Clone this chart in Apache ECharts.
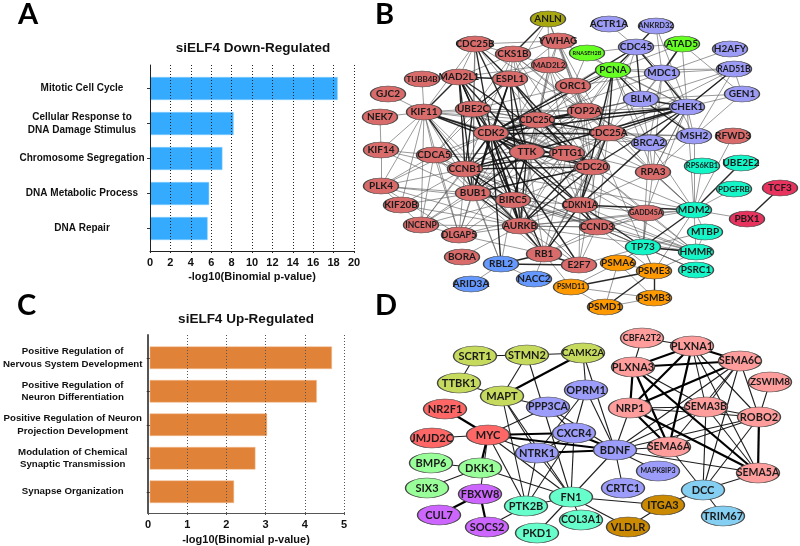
<!DOCTYPE html>
<html>
<head>
<meta charset="utf-8">
<style>html,body{margin:0;padding:0;background:#fff}#chart{width:800px;height:546px}</style>
<script src="https://cdn.jsdelivr.net/npm/echarts@6/dist/echarts.min.js"></script>
</head>
<body>
<div id="chart"></div>
<script>
// bar panels
var downTerms = ['Mitotic Cell Cycle', 'Cellular Response to\nDNA Damage Stimulus', 'Chromosome Segregation', 'DNA Metabolic Process', 'DNA Repair'];
var downValues = [18.4, 8.2, 7.1, 5.8, 5.65];
var upTerms = ['Positive Regulation of\nNervous System Development', 'Positive Regulation of\nNeuron Differentiation', 'Positive Regulation of Neuron\nProjection Development', 'Modulation of Chemical\nSynaptic Transmission', 'Synapse Organization'];
var upValues = [4.69, 4.3, 3.02, 2.72, 2.17];

// network B: node name, position, module
var bNames = ['ANLN', 'CDC25B', 'YWHAG', 'CKS1B', 'MAD2L2', 'TUBB4B', 'MAD2L1', 'ESPL1', 'ORC1', 'GJC2', 'NEK7', 'KIF11', 'UBE2C', 'TOP2A', 'CDC25C', 'CDK2', 'KIF14', 'CDCA5', 'TTK', 'PTTG1', 'ACTR1A', 'ANKRD32', 'CDC45', 'ATAD5', 'H2AFY', 'RNASEH2B', 'PCNA', 'MDC1', 'RAD51B', 'GEN1', 'BLM', 'CHEK1', 'MSH2', 'RFWD3', 'CDC25A', 'BRCA2', 'CCNB1', 'BUB1', 'BIRC5', 'PLK4', 'KIF20B', 'INCENP', 'DLGAP5', 'AURKB', 'CDKN1A', 'BORA', 'RBL2', 'RB1', 'E2F7', 'ARID3A', 'NACC2', 'PSMD11', 'CDC20', 'RPA3', 'RPS6KB1', 'UBE2E2', 'PDGFRB', 'TCF3', 'MDM2', 'GADD45A', 'PBX1', 'CCND3', 'MTBP', 'TP73', 'HMMR', 'PSMA6', 'PSME3', 'PSRC1', 'PSMB3', 'PSMD1'];
var bX = [548, 475, 558, 513, 549, 422, 459, 510, 573, 388, 380, 424, 473, 585, 537, 491, 381, 434, 527, 567, 609, 656, 636, 682, 730, 587, 613, 662, 734, 742, 641, 687, 694, 733, 608, 649, 465, 473, 513, 381, 401, 421, 459, 520, 580, 462, 501, 544, 579, 471, 534, 571, 592, 653, 702, 741, 734, 780, 694, 646, 747, 597, 705, 643, 696, 618, 654, 696, 654, 605];
var bY = [19, 44, 41, 54, 65, 79, 77, 79, 86, 94, 117, 112, 109, 111, 120, 133, 150, 155, 152, 153, 24, 26, 47, 44, 49, 53, 70, 73, 69, 94, 99, 107, 136, 136, 133, 143, 169, 193, 200, 186, 205, 225, 235, 226, 205, 257, 264, 254, 265, 284, 279, 287, 167, 172, 166, 163, 189, 188, 210, 213, 219, 227, 232, 247, 252, 263, 271, 270, 298, 307];
var bModule = [1, 0, 0, 0, 0, 0, 0, 0, 0, 0, 0, 0, 0, 0, 0, 0, 0, 0, 0, 0, 2, 2, 2, 3, 2, 3, 3, 2, 2, 2, 2, 2, 2, 0, 0, 2, 0, 0, 0, 0, 0, 0, 0, 0, 0, 0, 4, 0, 0, 4, 4, 5, 0, 0, 6, 6, 6, 7, 6, 0, 7, 0, 6, 6, 6, 5, 5, 6, 5, 5];
var bColors = ['#D96B6B', '#A8A80E', '#9C9CF7', '#66FF22', '#6699FF', '#FF9900', '#14F5C8', '#E8335F'];

// each line: first gene linked to the rest
var bStrong = [
    'CDK2 TTK CCNB1 BUB1 CDC25C CDC25A CDC20 CDKN1A CCND3 UBE2C AURKB BIRC5 ESPL1 TOP2A PTTG1 KIF11 RB1 RBL2 MAD2L1 CHEK1 CDC25B E2F7 ORC1 PCNA',
    'TTK BUB1 CCNB1 CDC20 AURKB PTTG1 MAD2L1 ESPL1 KIF11 CDC25B CHEK1 BIRC5 CDKN1A',
    'CCNB1 BUB1 AURKB BIRC5 CDC20 UBE2C PTTG1 CDC25C KIF11',
    'BUB1 AURKB BIRC5 CDC20 MAD2L1 ESPL1',
    'AURKB BIRC5 CDC20 RB1 CDC25A UBE2C',
    'MAD2L1 UBE2C KIF11 ESPL1 CCNB1 CDC20 BIRC5',
    'ESPL1 CDC25B PTTG1 UBE2C CDC20 AURKB',
    'CDC25C CDC25A CHEK1 CDC20 TOP2A',
    'CDC25A CHEK1 CDKN1A PCNA',
    'CDKN1A PCNA CHEK1 MDM2 CCND3 RB1 TP73',
    'CDC45 PCNA BLM CHEK1 ORC1 ANKRD32',
    'BLM CHEK1 MSH2 PCNA',
    'CHEK1 RAD51B CDC20',
    'ANLN CKS1B',
    'TCF3 PBX1',
    'UBE2E2 MDM2',
    'MDM2 TP73',
    'RBL2 RB1 E2F7',
    'RB1 E2F7',
    'ATAD5 MDC1',
    'PSME3 PSMB3 PSMD1 PSMD11',
    'TP73 HMMR'
];
var bWeak = [
    'ANLN ESPL1 MAD2L2 TOP2A ORC1',
    'CDC25B CKS1B YWHAG ESPL1 UBE2C KIF11 TOP2A MAD2L1 CDC25C BUB1',
    'YWHAG CKS1B MAD2L2 ESPL1 ORC1 TOP2A CDC25C CHEK1 CDC25A',
    'CKS1B MAD2L2 ESPL1 MAD2L1 UBE2C CDC25C TOP2A CCNB1 CDC20 TTK CDC25A',
    'MAD2L2 ESPL1 ORC1 TOP2A CDC25C CDC20 MAD2L1 PTTG1 BUB1 AURKB',
    'TUBB4B KIF11',
    'GJC2 KIF11',
    'NEK7 KIF11 KIF14',
    'KIF14 KIF11 CDCA5 CCNB1 PLK4 BUB1',
    'KIF11 UBE2C CDC25C CDCA5 BUB1 PLK4 INCENP DLGAP5 BIRC5 AURKB KIF20B TOP2A PTTG1 CDC20 CDC25A',
    'CDCA5 CCNB1 BUB1 PLK4 INCENP DLGAP5 AURKB BIRC5 UBE2C CDK2 TTK ESPL1 CDC20',
    'PLK4 CCNB1 BUB1 AURKB INCENP BIRC5 DLGAP5 CDK2',
    'KIF20B CCNB1 BUB1 AURKB',
    'INCENP CCNB1 BUB1 AURKB BIRC5 DLGAP5 TTK CDK2',
    'DLGAP5 CCNB1 BUB1 AURKB BIRC5 CDKN1A RB1 TTK CDK2',
    'BORA AURKB',
    'RBL2 BUB1 BIRC5 NACC2 ARID3A CCNB1',
    'NACC2 RB1',
    'RB1 CDKN1A CCND3 TTK BUB1 BIRC5 CDC20 PSMD11 CDC25A CCNB1 GADD45A',
    'E2F7 CDKN1A CCND3 AURKB BIRC5 TP73 PCNA',
    'UBE2C TOP2A CDC25C CDC25A TTK PTTG1 BUB1 BIRC5 ORC1 CDC20',
    'ORC1 TOP2A CDC25C CDC25A PCNA CDC20 TTK CDK2 MDC1 RPA3 PSME3 RNASEH2B',
    'TOP2A CDC25A TTK PTTG1 CDC20 BUB1 CCNB1 AURKB BIRC5 PCNA BLM BRCA2 CDKN1A',
    'CDC25C TTK PTTG1 BUB1 AURKB BIRC5 CDKN1A RPA3',
    'PTTG1 CDC20 CDC25A CDKN1A BIRC5 BUB1 AURKB RB1',
    'CDC20 CDC25A BIRC5 CDKN1A CCND3 RB1 GADD45A MDM2 HMMR',
    'BIRC5 CDKN1A CCND3 E2F7 HMMR',
    'AURKB CDKN1A CCND3 HMMR MDM2 GADD45A',
    'CDKN1A GADD45A CCND3 RPA3 BRCA2 HMMR',
    'CCND3 GADD45A MDM2 TP73 HMMR PSRC1 AURKB BIRC5 BUB1 CCNB1 CDC25A PSME3',
    'GADD45A MDM2 TP73 CDK2 CHEK1 HMMR',
    'RPA3 PCNA MDM2 BRCA2 CDC25A CDK2 CHEK1 MSH2 TP73',
    'ACTR1A CDC45',
    'ANKRD32 MDC1 CHEK1',
    'CDC45 ATAD5 MDC1 PCNA RNASEH2B CDC25A CDK2 TOP2A',
    'RNASEH2B PCNA',
    'PCNA ATAD5 MDC1 BLM CHEK1 BRCA2 CDC25C CDK2 RAD51B TTK MSH2',
    'ATAD5 BLM CHEK1 GEN1',
    'H2AFY MDC1',
    'RAD51B MDC1 BLM GEN1 MSH2 CHEK1 CDC25A',
    'GEN1 CHEK1 MSH2 BLM',
    'MDC1 CHEK1 BLM BRCA2 MSH2 RPA3 CDK2',
    'BLM BRCA2 CDC25A TOP2A CDK2 TTK',
    'CHEK1 MSH2 BRCA2 CDC25C TOP2A PTTG1 MDM2 RPA3',
    'MSH2 BRCA2 CDC25A MDM2 CDK2',
    'BRCA2 CDC25A MDM2 TOP2A CDK2 TP73',
    'RFWD3 MDM2',
    'MDM2 RPS6KB1 PDGFRB PBX1 MTBP HMMR PSME3 RPA3 CDC25A CCNB1',
    'CDC25A RPS6KB1',
    'MTBP HMMR TP73',
    'HMMR CCNB1 CDK2 PSME3 TP73',
    'TP73 PSME3 PSMA6 PSRC1',
    'PSRC1 CCNB1',
    'PSMA6 PSME3 PSMD11 PSMD1 PSMB3 TP73',
    'PSMD11 PSMD1 PSMB3',
    'PSMD1 PSMB3'
];

// network D
var dNames = ['SCRT1', 'STMN2', 'CAMK2A', 'TTBK1', 'MAPT', 'OPRM1', 'PPP3CA', 'NR2F1', 'MYC', 'JMJD2C', 'CXCR4', 'NTRK1', 'BMP6', 'DKK1', 'SIX3', 'FBXW8', 'FN1', 'PTK2B', 'CUL7', 'SOCS2', 'COL3A1', 'PKD1', 'CBFA2T2', 'PLXNA1', 'PLXNA3', 'SEMA6C', 'ZSWIM8', 'NRP1', 'SEMA3B', 'ROBO2', 'BDNF', 'SEMA6A', 'MAPK8IP3', 'SEMA5A', 'CRTC1', 'DCC', 'ITGA3', 'TRIM67', 'VLDLR'];
var dX = [475, 527, 583, 459, 502, 586, 548, 445, 488, 432, 574, 537, 431, 480, 427, 480, 571, 526, 439, 487, 581, 537, 642, 692, 633, 740, 770, 630, 706, 759, 615, 669, 658, 758, 623, 703, 663, 723, 628];
var dY = [356, 355, 353, 383, 396, 390, 407, 409, 435, 438, 433, 453, 463, 468, 488, 494, 497, 506, 515, 527, 520, 533, 338, 346, 367, 361, 382, 408, 407, 417, 450, 447, 471, 473, 488, 490, 505, 516, 527];
var dModule = [0, 0, 0, 0, 0, 1, 1, 2, 2, 2, 1, 1, 3, 3, 3, 4, 5, 5, 4, 4, 5, 5, 6, 6, 6, 6, 6, 6, 6, 6, 1, 6, 1, 6, 1, 7, 8, 7, 8];
var dColors = ['#C6DB5E', '#9C9CFA', '#FF6666', '#99FF99', '#CC66FF', '#66FFCC', '#FF9C9C', '#85CFF2', '#CC8A00'];

var dStrong = [
    'NR2F1 MYC',
    'CAMK2A MAPT',
    'MYC CXCR4 BDNF DKK1',
    'FBXW8 CUL7 SOCS2',
    'BDNF NTRK1 CXCR4',
    'PLXNA1 PLXNA3 SEMA6C NRP1 SEMA6A',
    'PLXNA3 SEMA6C NRP1 SEMA5A SEMA6A',
    'SEMA6C NRP1',
    'NRP1 SEMA6A SEMA5A',
    'ROBO2 SEMA5A'
];
var dWeak = [
    'SCRT1 STMN2 TTBK1',
    'STMN2 CAMK2A MAPT FN1',
    'CAMK2A OPRM1 BDNF',
    'TTBK1 MAPT',
    'MAPT PPP3CA NTRK1 PTK2B FN1',
    'PPP3CA MYC CXCR4 BDNF',
    'OPRM1 CXCR4 BDNF NTRK1',
    'JMJD2C MYC',
    'MYC NTRK1 FN1 PTK2B FBXW8',
    'BMP6 DKK1',
    'SIX3 DKK1',
    'DKK1 FN1',
    'SOCS2 PTK2B',
    'PTK2B FN1 CXCR4 NTRK1',
    'PKD1 FN1',
    'COL3A1 FN1',
    'FN1 BDNF ITGA3 VLDLR CXCR4 NTRK1',
    'NTRK1 CXCR4',
    'BDNF NRP1 SEMA3B SEMA6C SEMA6A SEMA5A CRTC1 MAPK8IP3 ROBO2',
    'CBFA2T2 PLXNA1 PLXNA3',
    'PLXNA1 SEMA3B ROBO2 SEMA5A',
    'PLXNA3 SEMA3B',
    'SEMA6C SEMA3B ROBO2 DCC SEMA6A',
    'ZSWIM8 ROBO2',
    'NRP1 SEMA3B ROBO2',
    'SEMA3B ROBO2 SEMA5A DCC',
    'ROBO2 DCC SEMA6A',
    'SEMA6A DCC',
    'SEMA5A DCC',
    'DCC TRIM67 ITGA3',
    'ITGA3 VLDLR'
];

var bSmallLabels = { RNASEH2B: 5.5, RPS6KB1: 7.5, ANKRD32: 7.5, GADD45A: 7, PSMD11: 7, MAD2L2: 8, PDGFRB: 8, RAD51B: 8.5, TUBB4B: 8, CDC25C: 9, DLGAP5: 9, INCENP: 8.5, CDKN1A: 8.5 };
var dSmallLabels = { MAPK8IP3: 7, CBFA2T2: 9, COL3A1: 10.5, ZSWIM8: 10, SEMA3B: 10.5, SEMA6C: 10.5, SEMA6A: 10.5, SEMA5A: 10.5, PPP3CA: 10.5, CAMK2A: 10 };

function buildNodes(names, xs, ys, modules, colors, size, fontSize, smallLabels) {
    return names.map(function (name, i) {
        return {
            name: name,
            value: [xs[i], ys[i]],
            symbolSize: size,
            itemStyle: { color: colors[modules[i]], borderColor: '#444', borderWidth: 1 },
            label: { fontSize: smallLabels[name] || fontSize }
        };
    });
}

function buildLinks(rows, style) {
    var links = [];
    rows.forEach(function (row) {
        var genes = row.split(' ');
        genes.slice(1).forEach(function (target) {
            links.push({ source: genes[0], target: target, lineStyle: style });
        });
    });
    return links;
}

function networkSeries(nodes, links) {
    return {
        type: 'graph',
        layout: 'none',
        coordinateSystem: 'cartesian2d',
        xAxisIndex: 0,
        yAxisIndex: 0,
        silent: true,
        z: 3,
        data: nodes,
        links: links,
        label: { show: true, position: 'inside', color: '#1a1a1a', fontFamily: 'Lato', fontWeight: 'bold' },
        lineStyle: { curveness: 0 }
    };
}

var boldText = { fontFamily: 'Liberation Sans', fontWeight: 'bold', color: '#111' };
function boldLabel(size, extra) {
    return Object.assign({}, boldText, { fontSize: size }, extra);
}

function panelLetter(text, left, top) {
    return { text: text, left: left, top: top, padding: 0, textStyle: { fontFamily: 'Lato', fontWeight: 'bold', fontSize: 29, color: '#000' } };
}
function panelTitle(text, center, top) {
    return { text: text, left: center, top: top, textAlign: 'center', padding: 0, textStyle: boldLabel(13.5) };
}

// axis frame (x scale, both axis lines) of a bar panel
function frameX(gridIndex, max, interval, lineColor, gridColor, nameGap) {
    return {
        gridIndex: gridIndex, type: 'value', min: 0, max: max, interval: interval, z: 5,
        name: '-log10(Binomial p-value)', nameLocation: 'middle', nameGap: nameGap,
        nameTextStyle: boldLabel(11),
        axisLine: { show: true, onZero: false, lineStyle: { color: lineColor, width: 1 } },
        axisTick: { show: true, length: 2, lineStyle: { color: lineColor } },
        axisLabel: boldLabel(11, { margin: 6 }),
        splitLine: { show: true, lineStyle: { type: [1, 2], color: gridColor, width: 1 } }
    };
}
function frameY(gridIndex, lineColor, lineWidth) {
    return {
        gridIndex: gridIndex, type: 'value', min: 0, max: 1, z: 5,
        axisLine: { show: true, onZero: false, lineStyle: { color: lineColor, width: lineWidth } },
        axisTick: { show: false }, axisLabel: { show: false }, splitLine: { show: false }
    };
}
function barX(gridIndex, max) {
    return { gridIndex: gridIndex, type: 'value', min: 0, max: max, show: false };
}
function barY(gridIndex, terms, margin, size) {
    return {
        gridIndex: gridIndex, type: 'category', inverse: true, data: terms, z: 5,
        axisLine: { show: false },
        axisTick: { show: true, alignWithLabel: true, length: 3, lineStyle: { color: '#333' } },
        axisLabel: boldLabel(size, { margin: margin, align: 'center', lineHeight: 12.5 })
    };
}

var chart = echarts.init(document.getElementById('chart'), null, { renderer: 'canvas' });
chart.setOption({
    animation: false,
    backgroundColor: '#fff',
    title: [
        panelLetter('A', 18, 0), panelLetter('B', 375, 0), panelLetter('C', 17, 291), panelLetter('D', 375, 291),
        panelTitle('siELF4 Down-Regulated', 253, 41),
        panelTitle('siELF4 Up-Regulated', 246, 312)
    ],
    grid: [
        { left: 0, top: 0, width: 800, height: 546 },
        { left: 150, top: 65, width: 204, height: 186 },
        { left: 150, top: 71, width: 204, height: 175 },
        { left: 148, top: 335, width: 196, height: 179 },
        { left: 148, top: 341, width: 196, height: 167.5 }
    ],
    xAxis: [
        { gridIndex: 0, type: 'value', min: 0, max: 800, show: false },
        frameX(1, 20, 2, '#222', '#222', 20),
        barX(2, 20),
        frameX(3, 5, 1, '#555', '#555', 21),
        barX(4, 5)
    ],
    yAxis: [
        { gridIndex: 0, type: 'value', min: 0, max: 546, inverse: true, show: false },
        frameY(1, '#222', 1),
        barY(2, downTerms, 68, 10),
        frameY(3, '#555', 2),
        barY(4, upTerms, 77, 9.7)
    ],
    series: [
        { type: 'bar', xAxisIndex: 2, yAxisIndex: 2, data: downValues, barWidth: 23, z: 2, silent: true,
          itemStyle: { color: '#35ABFF', borderColor: '#8CD0FF', borderWidth: 0.5 } },
        { type: 'bar', xAxisIndex: 4, yAxisIndex: 4, data: upValues, barWidth: 22.5, z: 2, silent: true,
          itemStyle: { color: '#E08237', borderColor: '#F2BC8E', borderWidth: 0.5 } },
        networkSeries(
            buildNodes(bNames, bX, bY, bModule, bColors, [35, 16], 10, bSmallLabels),
            buildLinks(bWeak, { color: '#555', width: 0.8, opacity: 0.75 }).concat(buildLinks(bStrong, { color: '#111', width: 1.4, opacity: 0.9 }))
        ),
        networkSeries(
            buildNodes(dNames, dX, dY, dModule, dColors, [43, 20], 11, dSmallLabels),
            buildLinks(dWeak, { color: '#111', width: 1.1, opacity: 0.95 }).concat(buildLinks(dStrong, { color: '#000', width: 2.2, opacity: 1 }))
        )
    ]
});
</script>
</body>
</html>
